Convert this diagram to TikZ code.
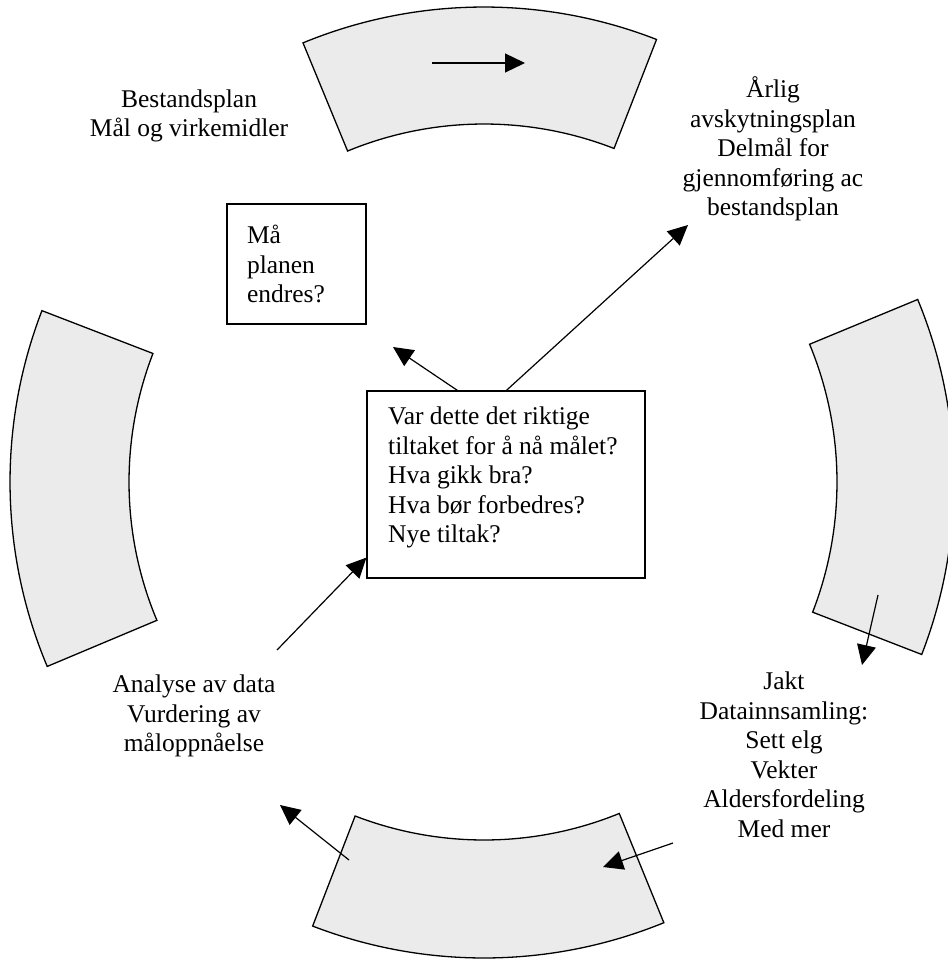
\documentclass[tikz,border=0pt]{standalone}
\usepackage{fontspec}
\setmainfont{Liberation Serif}
\usetikzlibrary{arrows.meta,calc}
\newcommand\mkband[6]{%
  \draw[band] ($(#1,#2)+(#3:#6pt)$) arc[start angle=#3,end angle=#4,radius=#6pt]
    -- ($(#1,#2)+(#4:#5pt)$) arc[start angle=#4,end angle=#3,radius=#5pt] -- cycle;}
\tikzset{
  band/.style={draw=black, line width=1.3pt, fill=black!8, line join=miter},
  arr/.style={line width=1.2pt, -{Triangle[length=20pt,width=19pt]}},
  txt/.style={font=\fontsize{25.5}{29.5}\selectfont, align=center, inner sep=0pt},
  boxed/.style={draw, line width=1.2pt, font=\fontsize{25.5}{29.5}\selectfont}
}
\begin{document}
\begin{tikzpicture}[x=1pt,y=1pt]
\useasboundingbox (0,0) rectangle (947,-960);
% bands
\mkband{484}{-482}{68.7}{112.4}{358}{475}
\mkband{484}{-482}{248.9}{292.2}{358}{476}
\mkband{486}{-482}{158.9}{202.8}{357}{476}
\mkband{477}{-482}{-21.2}{22.5}{360}{477}
% labels
\node[txt] (best) at (189,-116) {Bestandsplan\\Mål og virkemidler};
\node[txt] (arlig) at (773,-149) {Årlig\\avskytningsplan\\Delmål for\\gjennomføring ac\\bestandsplan};
\node[txt] (anal) at (194,-716) {Analyse av data\\Vurdering av\\måloppnåelse};
\node[txt] (jakt) at (784,-755) {Jakt\\Datainnsamling:\\Sett elg\\Vekter\\Aldersfordeling\\Med mer};
% boxes
\node[boxed, minimum width=139pt, minimum height=120pt, text width=99pt, inner xsep=20pt, align=left] (ma) at (296.5,-264) {Må\\planen\\endres?};
\node[boxed, minimum width=278pt, minimum height=187pt] (q) at (506,-484.5) {};
\node[txt, anchor=west, align=left] (qt) at (388,-477.5) {Var dette det riktige\\tiltaket for å nå målet?\\Hva gikk bra?\\Hva bør forbedres?\\Nye tiltak?};
% arrow ends
\coordinate (t1) at (432,-63);
\coordinate (t2) at (525,-63);
\coordinate (mtip) at (393,-347);
\coordinate (atip) at (688,-225);
\coordinate (an1) at (277,-650);
\coordinate (r1) at (878,-595);
\coordinate (r2) at (862,-665);
\coordinate (b1) at (349,-860);
\coordinate (b2) at (280,-805);
\coordinate (b3) at (673,-843);
\coordinate (b4) at (603,-867);
% arrows
\draw[arr] (t1) -- (t2);
\draw[arr] ([xshift=91pt]q.north west) -- (mtip);
\draw[arr] ([xshift=140pt]q.north west) -- (atip);
\draw[arr] (an1) -- ([yshift=21pt]q.south west);
\draw[arr] (r1) -- (r2);
\draw[arr] (b1) -- (b2);
\draw[arr] (b3) -- (b4);
\end{tikzpicture}
\end{document}
